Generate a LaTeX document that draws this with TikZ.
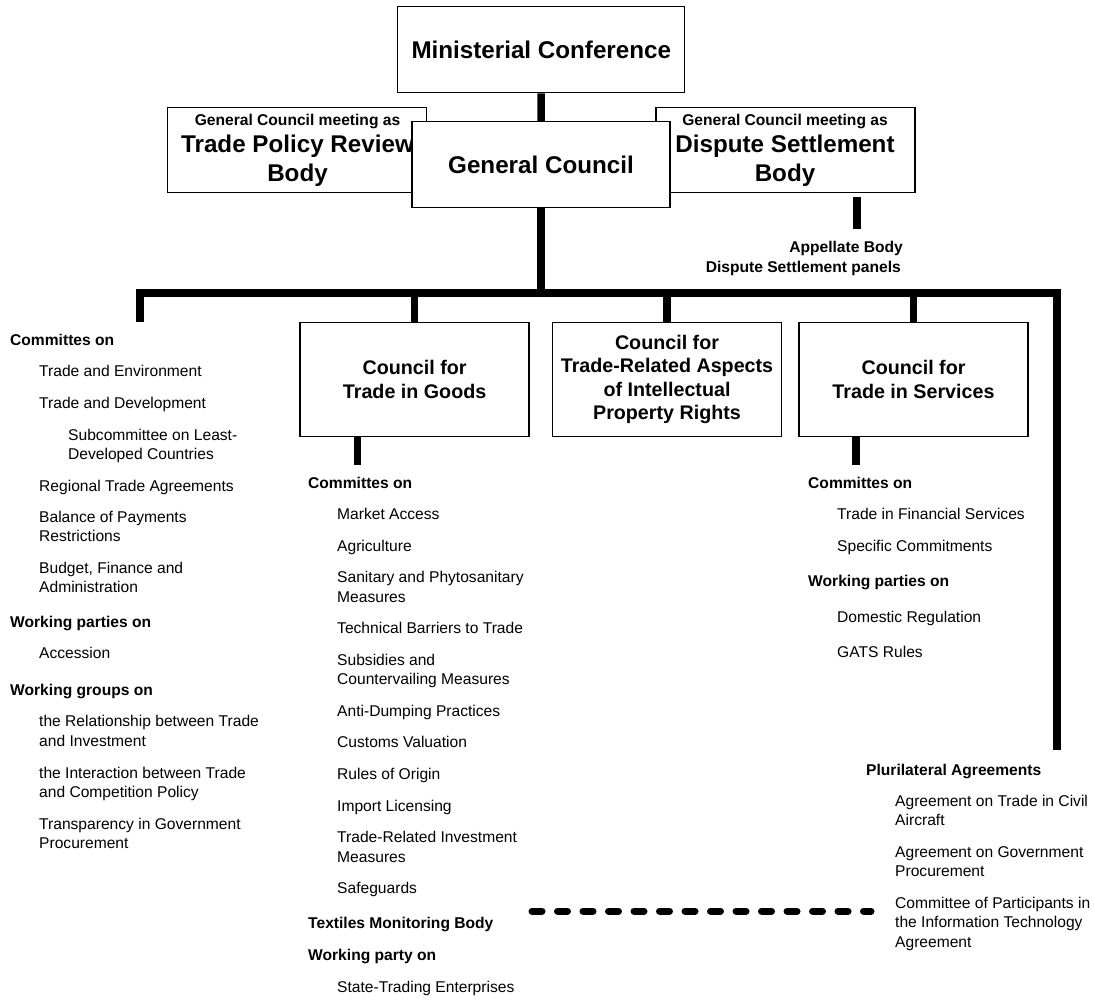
\documentclass[tikz,border=0pt]{standalone}
\usepackage{fontspec}
\setmainfont{Liberation Sans}

\begin{document}
\begin{tikzpicture}[x=1pt,y=-1pt,line join=miter]
    \tikzstyle{box}=[draw, line width=1.3pt, fill=white, inner sep=0pt, align=center]
    \tikzstyle{bigbox}=[box, font=\fontsize{24.2}{29}\selectfont\bfseries]
    \tikzstyle{council}=[box, minimum width=229pt, minimum height=114.5pt, font=\fontsize{19.7}{23.5}\selectfont\bfseries]
    \tikzstyle{bar}=[line width=7.5pt]
    \tikzstyle{big}=[inner sep=0pt, anchor=base, font=\fontsize{24.2}{29}\selectfont\bfseries]
    \tikzstyle{small}=[inner sep=0pt, anchor=base, font=\fontsize{15.6}{19}\selectfont\bfseries]
    \tikzstyle{item}=[anchor=west, inner sep=0pt, text height=11.2pt, text depth=0pt, font=\fontsize{15.6}{19}\selectfont]
    \tikzstyle{head}=[item, font=\fontsize{15.6}{19}\selectfont\bfseries]

    \useasboundingbox (0,0) rectangle (1095,999);

    % bodies of the general council
    \node[box, minimum width=259pt, minimum height=85.5pt] (tprb) at (297,150) {};
    \node[small] (tprb1) at (297.5,125) {General Council meeting as};
    \node[big]   (tprb2) at (297.5,152) {Trade Policy Review};
    \node[big]   (tprb3) at (297.5,181) {Body};
    \node[box, minimum width=259pt, minimum height=85.5pt] (dsb) at (785.5,150) {};
    \node[small] (dsb1) at (785,125) {General Council meeting as};
    \node[big]   (dsb2) at (785,152) {Dispute Settlement};
    \node[big]   (dsb3) at (785,181) {Body};

    \node[bigbox, minimum width=287pt, minimum height=86pt] (mc) at (541.3,49.7) {Ministerial Conference};
    \node[bigbox, minimum width=258pt, minimum height=85.6pt] (gc) at (541,164.5) {General Council};

    % councils
    \node[council] (goods)    at (414.6,379.5) {Council for\\Trade in Goods};
    \node[council] (trips)    at (667,379.5)   {Council for\\Trade-Related Aspects\\of Intellectual\\Property Rights};
    \node[council] (services) at (913.5,379.5) {Council for\\Trade in Services};

    \coordinate (hub)      at (541,293);
    \coordinate (cmtTop)   at (140,322);
    \coordinate (pluTop)   at (1057,750);
    \coordinate (dsbStub)  at (857,228.5);
    \coordinate (goodsStub) at (357.5,465);
    \coordinate (servStub) at (856,465);

    \draw[bar] (mc) -- (gc);
    \draw[bar] (gc) -- (hub);
    \draw[bar] (cmtTop) -- (cmtTop |- hub) -- (pluTop |- hub) -- (pluTop);
    \foreach \c in {goods,trips,services}
        \draw[bar] (\c.north) -- (\c.north |- hub);
    \draw[bar] ([yshift=-4pt]dsb.south -| dsbStub) -- (dsbStub);
    \draw[bar] (goods.south -| goodsStub) -- (goodsStub);
    \draw[bar] (services.south -| servStub) -- (servStub);

    \node[small, anchor=base east] (ab)  at (903,252.6) {Appellate Body};
    \node[small, anchor=base east] (dsp) at (901,272.6) {Dispute Settlement panels};

    % committees of the general council
    \foreach \x/\y/\s/\t [count=\i] in {
        10/340/head/Committes on, 39/371/item/Trade and Environment,
        39/403/item/Trade and Development, 68/435/item/Subcommittee on Least-,
        68/454/item/Developed Countries, 39/486/item/Regional Trade Agreements,
        39/517/item/Balance of Payments, 39/536/item/Restrictions,
        39/568/item/{Budget, Finance and}, 39/587/item/Administration,
        10/622/head/Working parties on, 39/653/item/Accession,
        10/690/head/Working groups on, 39/721/item/the Relationship between Trade,
        39/741/item/and Investment, 39/773/item/the Interaction between Trade,
        39/792/item/and Competition Policy, 39/824/item/Transparency in Government,
        39/843/item/Procurement}
        \node[\s] (cmt\i) at (\x,\y) {\t};

    % goods
    \foreach \x/\y/\s/\t [count=\i] in {
        308/483/head/Committes on, 337/514/item/Market Access,
        337/546/item/Agriculture, 337/577/item/Sanitary and Phytosanitary,
        337/597/item/Measures, 337/628/item/Technical Barriers to Trade,
        337/660/item/Subsidies and, 337/679/item/Countervailing Measures,
        337/711/item/Anti-Dumping Practices, 337/742/item/Customs Valuation,
        337/774/item/Rules of Origin, 337/806/item/Import Licensing,
        337/837/item/Trade-Related Investment, 337/857/item/Measures,
        337/888/item/Safeguards, 308/923/head/Textiles Monitoring Body,
        308/955/head/Working party on, 337/987/item/State-Trading Enterprises}
        \node[\s] (cg\i) at (\x,\y) {\t};

    % services
    \foreach \x/\y/\s/\t [count=\i] in {
        808/483/head/Committes on, 837/514/item/Trade in Financial Services,
        837/546/item/Specific Commitments, 808/581/head/Working parties on,
        837/617/item/Domestic Regulation, 837/652/item/GATS Rules}
        \node[\s] (cs\i) at (\x,\y) {\t};

    % plurilateral
    \foreach \x/\y/\s/\t [count=\i] in {
        866/770/head/Plurilateral Agreements, 895/801/item/Agreement on Trade in Civil,
        895/820/item/Aircraft, 895/852/item/Agreement on Government,
        895/871/item/Procurement, 895/903/item/Committee of Participants in,
        895/922/item/the Information Technology, 895/942/item/Agreement}
        \node[\s] (pa\i) at (\x,\y) {\t};

    \coordinate (itaL) at (532,911);
    \coordinate (itaR) at (871,911);
    \draw[bar, line width=7pt, line cap=round, dash pattern=on 10pt off 15.5pt] (itaL) -- (itaR);
\end{tikzpicture}
\end{document}
